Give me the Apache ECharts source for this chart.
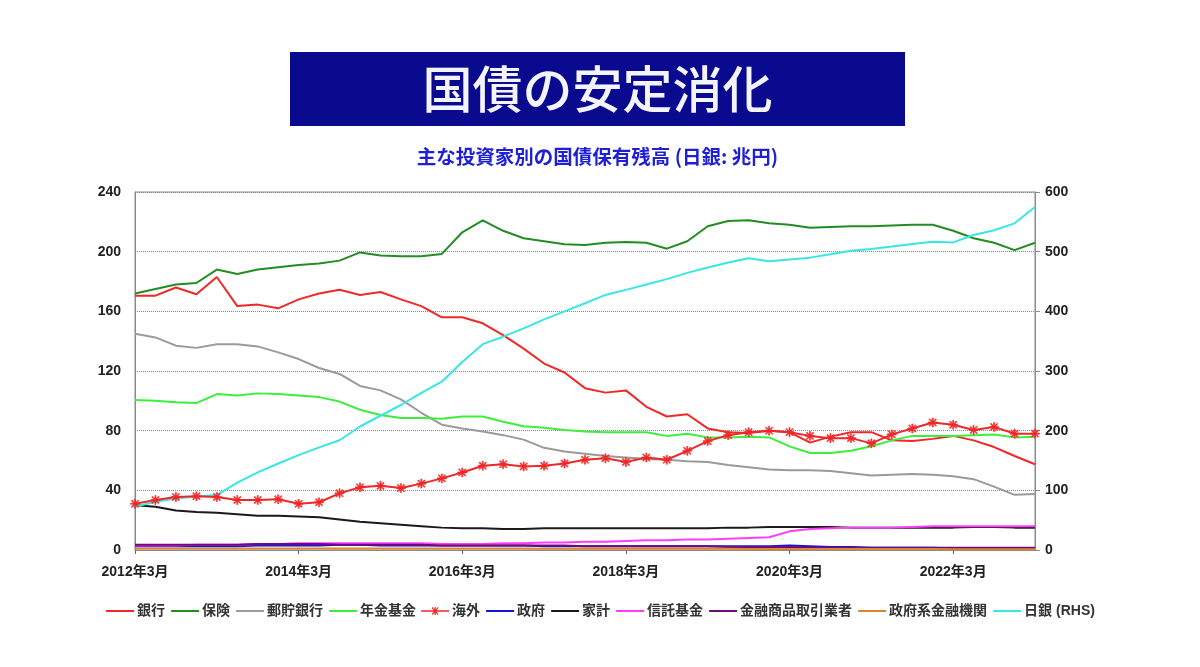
<!DOCTYPE html>
<html><head><meta charset="utf-8">
<script src="https://cdn.jsdelivr.net/npm/echarts@6/dist/echarts.min.js"></script>
<style>html,body{margin:0;padding:0;background:#fff}#c{width:1200px;height:667px}</style>
</head><body><div id="c"></div>
<script>
var categories = [
 "2012年3月","2012年6月","2012年9月","2012年12月","2013年3月","2013年6月","2013年9月","2013年12月",
 "2014年3月","2014年6月","2014年9月","2014年12月","2015年3月","2015年6月","2015年9月","2015年12月",
 "2016年3月","2016年6月","2016年9月","2016年12月","2017年3月","2017年6月","2017年9月","2017年12月",
 "2018年3月","2018年6月","2018年9月","2018年12月","2019年3月","2019年6月","2019年9月","2019年12月",
 "2020年3月","2020年6月","2020年9月","2020年12月","2021年3月","2021年6月","2021年9月","2021年12月",
 "2022年3月","2022年6月","2022年9月","2022年12月","2023年3月"];
var bank = [170.5,170.5,176,171.5,183,163.5,164.5,162,168,172,174.5,171,173,168,163.5,156,156,152,144,135,125,119,108.5,105.5,107,96,89.5,91,81.5,79,78.5,80,79,72,76,79,79,73.5,73,74.5,76.5,73.5,69,63,57.5];
var insurance = [172,175,178,179,188,185,188,189.5,191,192,194,199.5,197.5,197,197,198.5,213,221,214,209,207,205,204.5,206,206.5,206,202,207,217,220.5,221,219,218,216,216.5,217,217,217.5,218,218,214,209,206,201,206];
var postal = [145,142.5,137,135.5,138,138,136.5,132.5,128,122,118,110,107,101,92,84,81.5,79.5,77,74,68.5,66,64.5,63,62,61,60.5,59.5,59,57,55.5,54,53.5,53.5,53,51.5,50,50.5,51,50.5,49.5,47.5,42.5,37,37.5];
var pension = [100.5,100,99,98.5,104.5,103.5,105,104.5,103.5,102.5,99.5,94,90.5,88.5,88.5,88,89.5,89.5,86,83,82,80.5,79.5,79,79,79,76.5,78,75.5,75.5,76,75.5,69.5,65,65,66.5,69.5,73.5,76.5,76.5,76.5,77,77.5,75.5,76];
var overseas = [31,33.5,35.5,36,35.5,33.5,33.5,34,31,32,38,42,43,41.5,44.5,48,52,56.5,57.5,56,56.5,58,60.5,61.5,59,62,60.5,66.5,73,77,79,80,79,76.5,75,75,71.5,77.5,81.5,85.5,84,80.5,82.5,78,78];
var government = [2.5,2.5,2.5,2.5,2.5,2.5,3,3,3,3,3.5,3.5,3,3,3,3,3,3,3,3,2.5,2.5,2.5,2.5,2.5,2.5,2.5,2.5,2.5,2.5,2.5,2.5,3,2.5,2,2,1.5,1.5,1.5,1.5,1,1,1,1,1];
var household = [30,29,26.5,25.5,25,24,23,23,22.5,22,20.5,19,18,17,16,15,14.5,14.5,14,14,14.5,14.5,14.5,14.5,14.5,14.5,14.5,14.5,14.5,15,15,15.5,15.5,15.5,15.5,15,15,15,15,15,15,15.5,15.5,15,15];
var trust = [3,3,3,3.5,3.5,3.5,4,4,4.5,4.5,4.5,4.5,4.5,4.5,4.5,4,4,4,4.5,4.5,5,5,5.5,5.5,6,6.5,6.5,7,7,7.5,8,8.5,12.5,14,14.5,15,15,15,15.5,16,16,16,16,16,16];
var brokers = [3.5,3.5,3.5,3.5,3.5,3.5,4,4,4,4,3.5,3.5,3.5,3.5,3.5,3,3,3,3,3,3,3,2.5,2.5,2.5,2.5,2.5,2.5,2.5,2,2,2,2,1.5,1.5,1.5,1.5,1.5,1.5,1.5,1.5,1.5,1.5,1.5,1.5];
var govFinance = [1,1,1,1,1,1,1,1,1,1,1,1,1,1,1,1,1,1,1,1,0.8,0.8,0.8,0.8,0.8,0.8,0.8,0.8,0.8,0.8,0.6,0.6,0.6,0.6,0.6,0.6,0.6,0.6,0.6,0.6,0.5,0.5,0.5,0.5,0.5];
var boj = [72.5,81,86.5,89.5,92,113,130,145,159,172,184,207,225,243,263.5,282,315,345,357.5,371.5,386.5,400,413.5,427.5,436,445,454,464.5,473.5,482,489,484,487,490,495.5,501.5,504.5,508.5,513,516.5,515.5,528,536,547.5,575];
var leftTicks = [0, 240, 40];
var rightTicks = [0, 600, 100];
var legendNames = ['銀行','保険','郵貯銀行','年金基金','海外','政府','家計','信託基金','金融商品取引業者','政府系金融機関','日銀 (RHS)'];

var FONT = "'Liberation Sans','Noto Sans CJK JP',sans-serif";
var star = 'path://M4.4 0 L5.6 0 L5.6 10 L4.4 10 Z M0 4.4 L10 4.4 L10 5.6 L0 5.6 Z M0.8 1.6 L1.6 0.8 L9.2 8.4 L8.4 9.2 Z M8.4 0.8 L9.2 1.6 L1.6 9.2 L0.8 8.4 Z';
var lineStar = 'path://M0 3.8 L28 3.8 L28 5.2 L0 5.2 Z M13.4 0.5 L14.6 0.5 L14.6 8.5 L13.4 8.5 Z M10.6 1.4 L11.4 0.6 L17.4 7.6 L16.6 8.4 Z M16.6 0.6 L17.4 1.4 L11.4 8.4 L10.6 7.6 Z M14 0 L14 9';

function mk(name, data, color, extra) {
  var s = {name: name, type: 'line', data: data, symbol: 'none', showSymbol: false,
    lineStyle: {color: color, width: 2}, itemStyle: {color: color}, z: 2, animation: false};
  if (extra) for (var k in extra) s[k] = extra[k];
  return s;
}

var legendData = legendNames.map(function (n) {
  if (n === '海外') return {name: n, icon: lineStar, itemStyle: {opacity: 1, color: '#f02828', borderWidth: 0}};
  return {name: n};
});

var chart = echarts.init(document.getElementById('c'));
chart.setOption({
  backgroundColor: '#fff',
  animation: false,
  graphic: [
    {type: 'rect', shape: {x: 290, y: 52, width: 615, height: 74}, style: {fill: '#0a0a8e'}},
    {type: 'text', x: 597.5, y: 89, style: {text: '国債の安定消化', fill: '#f4f4ff', font: '500 50px "Noto Sans CJK JP",sans-serif', textAlign: 'center', textVerticalAlign: 'middle'}},
    {type: 'text', x: 597.5, y: 157, style: {text: '主な投資家別の国債保有残高 (日銀: 兆円)', fill: '#1f1fd6', font: 'bold 19.5px "Noto Sans CJK JP",sans-serif', textAlign: 'center', textVerticalAlign: 'middle'}}
  ],
  grid: {left: 135, right: 165, top: 192, bottom: 117, show: true, borderColor: '#8a8a8a', borderWidth: 1},
  legend: {
    bottom: 44, left: 'center', itemWidth: 28, itemHeight: 9, itemGap: 5,
    itemStyle: {opacity: 0},
    textStyle: {fontFamily: FONT, fontSize: 14, fontWeight: 'bold', color: '#333', padding: [0, 0, 0, -2]},
    data: legendData
  },
  xAxis: {
    type: 'category', data: categories, boundaryGap: false,
    axisLine: {show: true, lineStyle: {color: '#8a8a8a'}},
    axisTick: {show: true, length: 4, interval: function (i) { return i % 8 === 0; }, lineStyle: {color: '#666'}},
    axisLabel: {interval: function (i) { return i % 8 === 0; }, fontFamily: FONT, fontSize: 14, fontWeight: 'bold', color: '#222', margin: 15}
  },
  yAxis: [
    {type: 'value', min: leftTicks[0], max: leftTicks[1], interval: leftTicks[2],
      axisLine: {show: true, lineStyle: {color: '#8a8a8a'}}, axisTick: {show: false},
      axisLabel: {fontFamily: FONT, fontSize: 14, fontWeight: 'bold', color: '#222', margin: 14},
      splitLine: {show: true, lineStyle: {color: '#888', type: 'dotted', width: 1}}},
    {type: 'value', min: rightTicks[0], max: rightTicks[1], interval: rightTicks[2], position: 'right',
      axisLine: {show: true, lineStyle: {color: '#8a8a8a'}}, axisTick: {show: true, length: 5, lineStyle: {color: '#8a8a8a'}},
      axisLabel: {fontFamily: FONT, fontSize: 14, fontWeight: 'bold', color: '#222', margin: 10},
      splitLine: {show: false}}
  ],
  series: [
    mk('銀行', bank, '#f02828'),
    mk('保険', insurance, '#238c23'),
    mk('郵貯銀行', postal, '#9a9a9a'),
    mk('年金基金', pension, '#3cef3c'),
    mk('海外', overseas, '#f02828', {symbol: star, showSymbol: true, symbolSize: 9, itemStyle: {color: '#f02828', borderColor: '#f02828', borderWidth: 0.6}, z: 3}),
    mk('政府', government, '#1414d8'),
    mk('家計', household, '#1a1a1a'),
    mk('信託基金', trust, '#ff3cff'),
    mk('金融商品取引業者', brokers, '#6e0a82'),
    mk('政府系金融機関', govFinance, '#e0852c'),
    mk('日銀 (RHS)', boj, '#38e6e6', {yAxisIndex: 1})
  ]
});
</script></body></html>
